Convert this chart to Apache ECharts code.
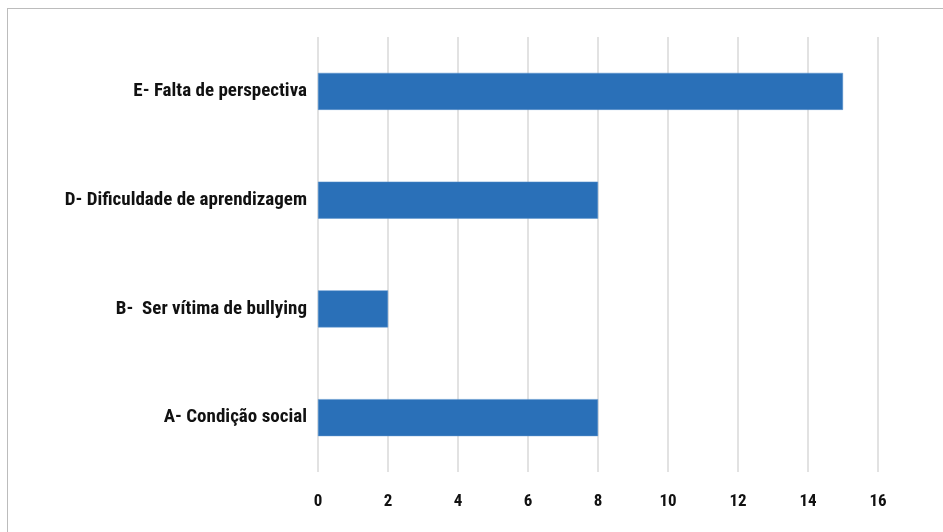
<!DOCTYPE html>
<html><head><meta charset="utf-8">
<script src="https://cdn.jsdelivr.net/npm/echarts@6/dist/echarts.min.js"></script>
<style>html,body{margin:0;padding:0;background:#fff}#c{width:943px;height:532px;position:relative}
#frame{position:absolute;left:7px;top:8px;width:960px;height:560px;border:1px solid #bcbcbc;box-sizing:border-box;pointer-events:none}</style>
</head><body><div id="c"></div><div id="frame"></div>
<script>
const categories = ["A- Condição social", "B-  Ser vítima de bullying", "D- Dificuldade de aprendizagem", "E- Falta de perspectiva"];
const values = [8, 2, 8, 15];
const xTicks = [0, 2, 4, 6, 8, 10, 12, 14, 16];

const font = '"Liberation Sans Narrow", "Roboto Condensed", Roboto, sans-serif';
const chart = echarts.init(document.getElementById('c'), null, {renderer: 'canvas'});
chart.setOption({
  animation: false,
  grid: {left: 318, right: 65, top: 37, bottom: 60, containLabel: false},
  xAxis: {
    type: 'value', min: xTicks[0], max: xTicks[xTicks.length - 1], interval: 2,
    axisLine: {show: false}, axisTick: {show: false},
    splitLine: {show: true, lineStyle: {color: '#d9d9d9', width: 1.5}},
    axisLabel: {margin: 21, color: '#111', fontFamily: font, fontWeight: 'bold', fontSize: 17,
      formatter: v => xTicks.includes(v) ? String(v) : ''}
  },
  yAxis: {
    type: 'category', data: categories,
    axisLine: {show: false}, axisTick: {show: false},
    axisLabel: {margin: 11, color: '#111', fontFamily: font, fontWeight: 'bold', fontSize: 19}
  },
  series: [{
    type: 'bar', data: values, barWidth: 37,
    itemStyle: {color: '#2a70b8', borderColor: '#5b93cc', borderWidth: 0.5}
  }]
});
</script></body></html>
